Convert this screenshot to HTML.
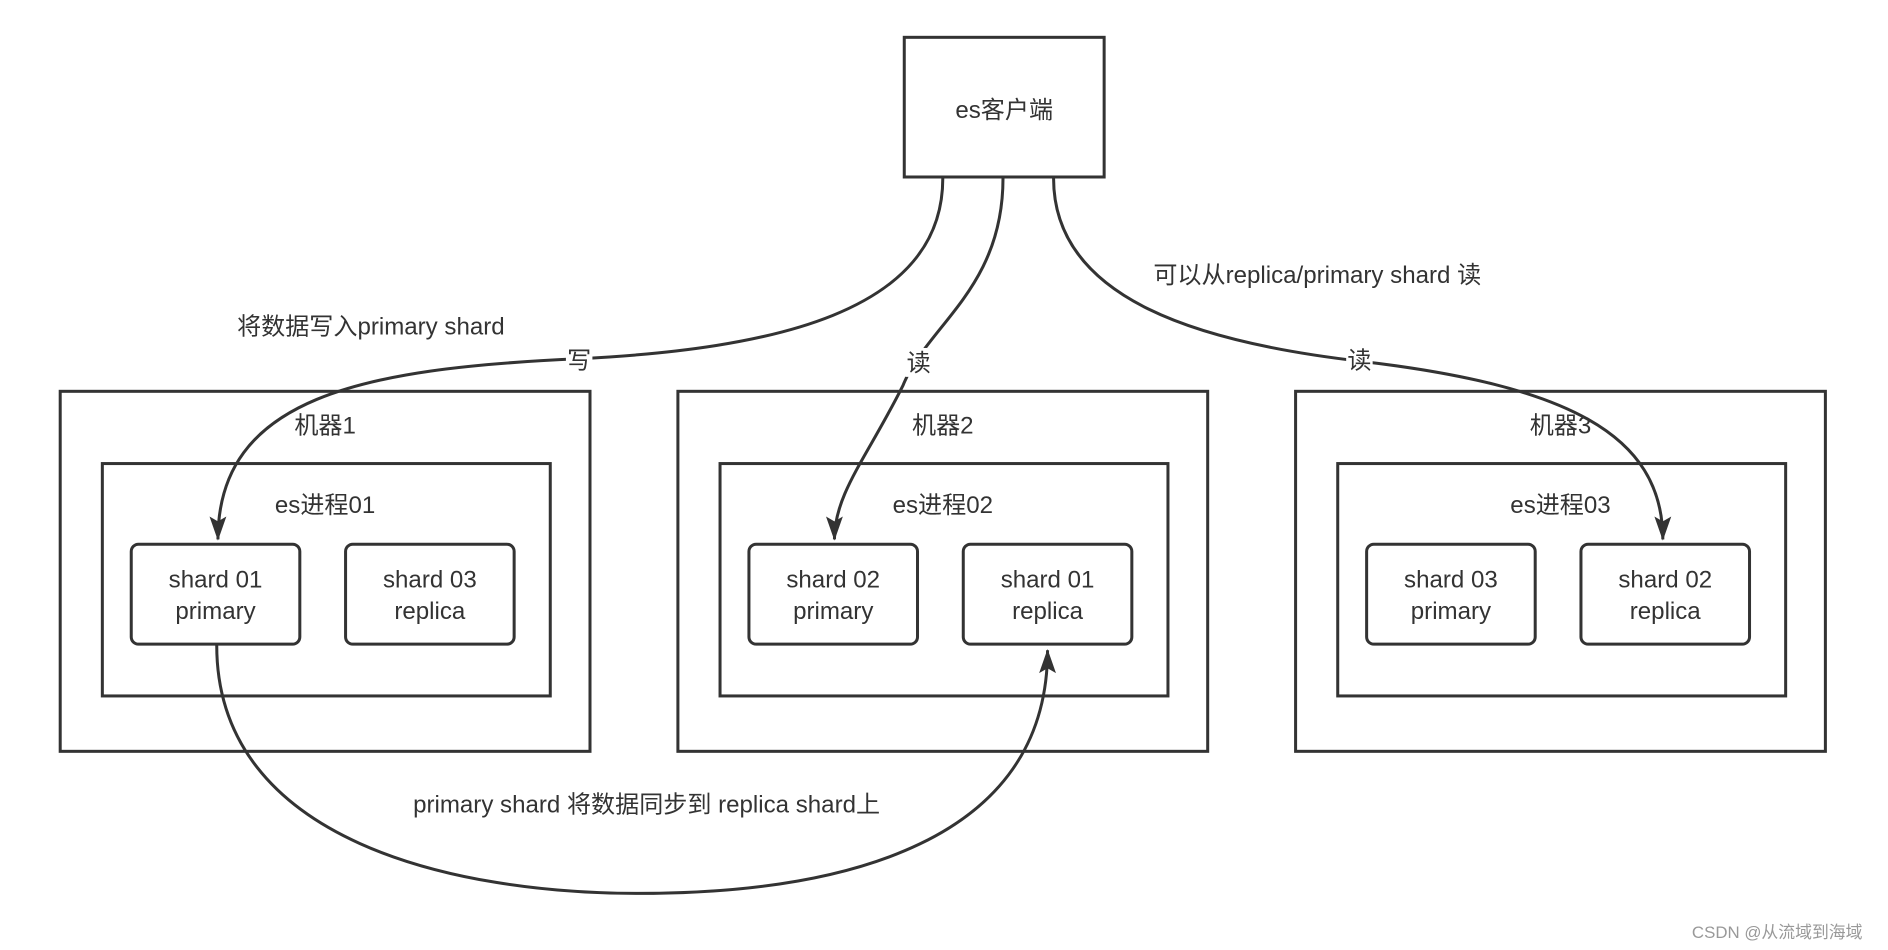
<!DOCTYPE html>
<html><head><meta charset="utf-8"><style>
html,body{margin:0;padding:0;background:#fff;}
svg{display:block;}
text{font-family:"Liberation Sans","Noto Sans CJK SC",sans-serif;fill:#333;font-size:20px;text-anchor:middle;}
</style></head><body>
<svg width="1888" height="950" viewBox="0 0 1568 789" preserveAspectRatio="none">
<defs>
<marker id="a" viewBox="0 0 10 10" refX="9" refY="5" markerWidth="10" markerHeight="10" markerUnits="userSpaceOnUse" orient="auto">
<path d="M0,1 L10,5 L0,9 Z" fill="#333"/>
</marker>
<marker id="b" viewBox="0 0 20 20" refX="19" refY="10" markerWidth="22" markerHeight="20" markerUnits="userSpaceOnUse" orient="auto">
<path d="M0,3 L20,10 L0,17 L4,10 Z" fill="#333"/>
</marker>
</defs>
<g fill="none" stroke="#333" stroke-width="2.5">
<rect x="751" y="31" width="166" height="116"/>
<rect x="50" y="325" width="440" height="299"/>
<rect x="563" y="325" width="440" height="299"/>
<rect x="1076" y="325" width="440" height="299"/>
<rect x="85" y="385" width="372" height="193"/>
<rect x="598" y="385" width="372" height="193"/>
<rect x="1111" y="385" width="372" height="193"/>
<rect x="109" y="452" width="140" height="83" rx="6"/>
<rect x="287" y="452" width="140" height="83" rx="6"/>
<rect x="622" y="452" width="140" height="83" rx="6"/>
<rect x="800" y="452" width="140" height="83" rx="6"/>
<rect x="1135" y="452" width="140" height="83" rx="6"/>
<rect x="1313" y="452" width="140" height="83" rx="6"/>
<path d="M783,148 C783,260 640,290 480,298 C300,306 181,330 181,448" marker-end="url(#b)"/>
<path d="M833,148 C833,240 770,270 750,320 C720,380 693,410 693,448" marker-end="url(#b)"/>
<path d="M875,148 C875,250 1000,285 1130,300 C1300,320 1381,360 1381,448" marker-end="url(#b)"/>
<path d="M180,536 C180,700 380,742 530,742 C700,742 870,700 870,540" marker-end="url(#b)"/>
</g>
<rect x="470" y="287" width="22" height="24" fill="#fff"/>
<rect x="752" y="289" width="22" height="24" fill="#fff"/>
<rect x="1118" y="287" width="22" height="24" fill="#fff"/>
<text x="834" y="98">es客户端</text>
<text x="308" y="278" >将数据写入primary shard</text>
<text x="1094" y="235">可以从replica/primary shard 读</text>
<text x="481" y="306">写</text>
<text x="763" y="308">读</text>
<text x="1129" y="306">读</text>
<text x="270" y="360">机器1</text>
<text x="783" y="360">机器2</text>
<text x="1296" y="360">机器3</text>
<text x="270" y="426">es进程01</text>
<text x="783" y="426">es进程02</text>
<text x="1296" y="426">es进程03</text>
<text x="179" y="488">shard 01</text><text x="179" y="514">primary</text>
<text x="357" y="488">shard 03</text><text x="357" y="514">replica</text>
<text x="692" y="488">shard 02</text><text x="692" y="514">primary</text>
<text x="870" y="488">shard 01</text><text x="870" y="514">replica</text>
<text x="1205" y="488">shard 03</text><text x="1205" y="514">primary</text>
<text x="1383" y="488">shard 02</text><text x="1383" y="514">replica</text>
<text x="537" y="675">primary shard 将数据同步到 replica shard上</text>
<text x="1476" y="779" style="font-size:14px;fill:#999">CSDN @从流域到海域</text>
</svg>
</body></html>
